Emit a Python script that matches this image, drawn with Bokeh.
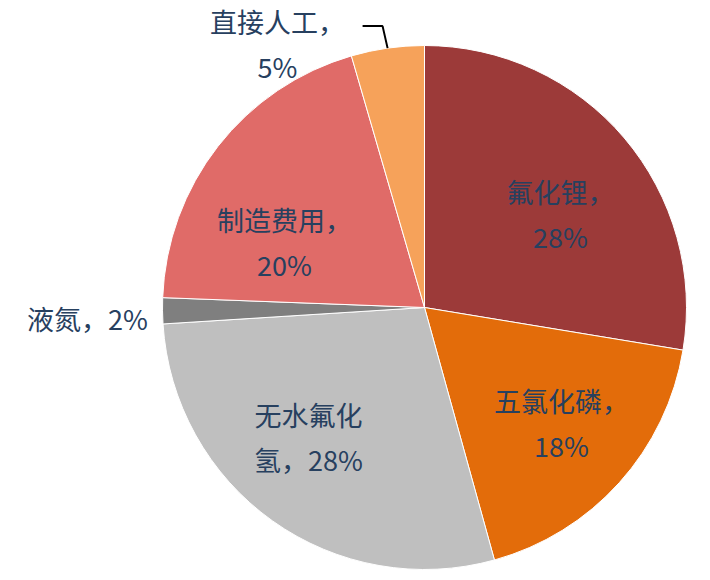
import math

from bokeh.core.properties import value
from bokeh.embed import file_html
from bokeh.models import Range1d
from bokeh.plotting import figure
from bokeh.resources import INLINE

# cost shares, clockwise from 12 o'clock
names = ["氟化锂", "五氯化磷", "无水氟化氢", "液氮", "制造费用", "直接人工"]
shares = [27.6, 18.1, 28.3, 1.6, 19.9, 4.5]
label_texts = ["氟化锂，\n28%", "五氯化磷，\n18%", "无水氟化\n氢，28%",
               "液氮，2%", "制造费用，\n20%", "直接人工，\n5%"]
colors = ["#9C3A39", "#E36C0A", "#BFBFBF", "#7F7F7F", "#E06B68", "#F6A25A"]

W, H = 702, 575
cx, cy, R = 424, H - 307, 262   # pie centre / radius in plot pixels
font = value("Noto Sans CJK SC")
txt_color = "#27405F"
gap = 45   # distance between label lines

p = figure(width=W, height=H, output_backend="svg", toolbar_location=None,
           x_range=Range1d(0, W), y_range=Range1d(0, H), min_border=0)
p.axis.visible = False
p.grid.visible = False
p.outline_line_color = None

total = sum(shares)
starts, ends = [], []
a = math.pi / 2
for s in shares:
    starts.append(a)
    a -= s / total * 2 * math.pi
    ends.append(a)

p.wedge(x=cx, y=cy, radius=R, start_angle=starts, end_angle=ends,
        direction="clock", fill_color=colors, line_color="white", line_width=1)

# label block centres, offsets from the pie centre (pixels, y up)
offsets = [(136, 94), (137, -115), (-116, -129), (-337, -11), (-140, 66), (-147, 264)]
tx, ty, tt = [], [], []
for (dx, dy), lab in zip(offsets, label_texts):
    lines = lab.split("\n")
    n = len(lines)
    for i, line in enumerate(lines):
        tx.append(cx + dx)
        ty.append(cy + dy + (n - 1) * gap / 2 - i * gap)
        tt.append(line)
p.text(x=tx, y=ty, text=tt, text_font=font, text_font_size="27px",
       text_color=txt_color, text_align="center", text_baseline="middle")

# leader line for the small 直接人工 slice
mid = (starts[5] + ends[5]) / 2
ex, ey = cx + R * math.cos(mid), cy + R * math.sin(mid)
p.line(x=[ex, ex - 5, ex - 25], y=[ey, ey + 22, ey + 22], line_color="black", line_width=2)

open("out.html", "w").write(file_html(p, INLINE))
